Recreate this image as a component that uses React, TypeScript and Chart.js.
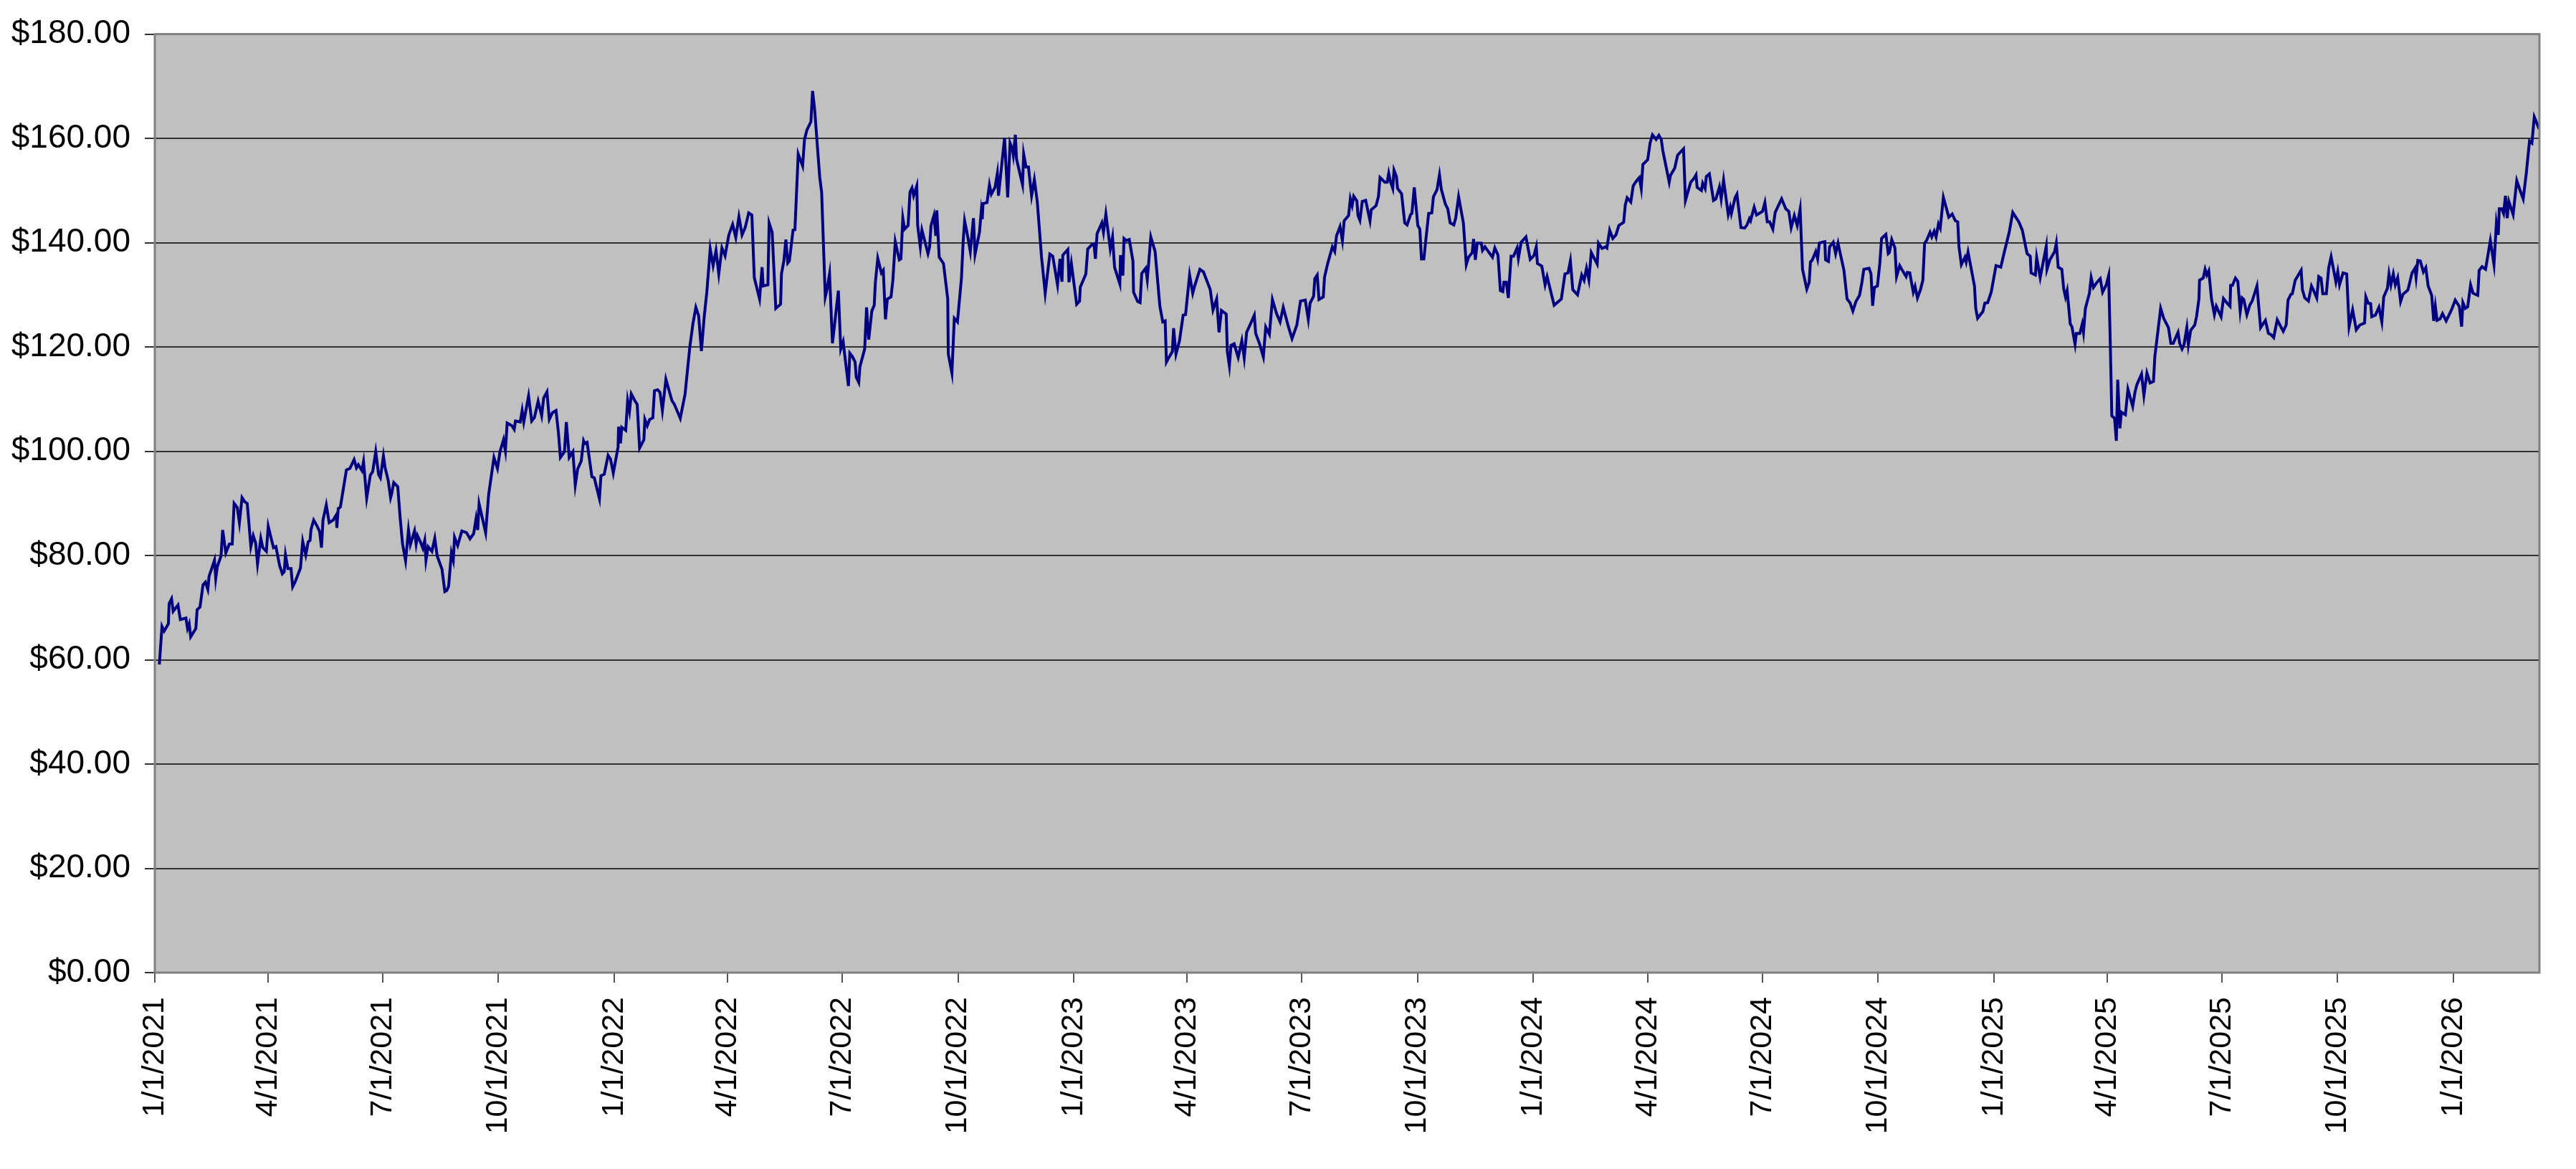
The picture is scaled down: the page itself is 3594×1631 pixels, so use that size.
import { useEffect, useRef } from 'react';
import { Chart, registerables, ChartConfiguration, Plugin } from 'chart.js';

Chart.register(...registerables);

// x axis labels, one per quarter
const tickLabels = [
  '1/1/2021', '4/1/2021', '7/1/2021', '10/1/2021',
  '1/1/2022', '4/1/2022', '7/1/2022', '10/1/2022',
  '1/1/2023', '4/1/2023', '7/1/2023', '10/1/2023',
  '1/1/2024', '4/1/2024', '7/1/2024', '10/1/2024',
  '1/1/2025', '4/1/2025', '7/1/2025', '10/1/2025',
  '1/1/2026',
];

// [days since 1/1/2021, closing price]
const year2021: [number, number][] = [
  [3.6, 59.1], [5.7, 66.4], [7.4, 65.5], [10.8, 66.9], [11.4, 70.8], [13.3, 71.7], [14.6, 69.3], [18.4, 70.5],
  [20.3, 67.7], [24.7, 68.0], [26.0, 66.0], [27.3, 66.9], [28.5, 64.4], [32.6, 66.0], [33.6, 69.6], [35.9, 70.1],
  [38.3, 74.4], [40.2, 74.9], [42.1, 73.5], [43.1, 76.0], [47.4, 79.1], [48.4, 75.6], [49.7, 77.9], [52.6, 79.9],
  [53.9, 84.9], [56.4, 80.5], [59.2, 82.2], [61.5, 82.2], [63.0, 90.0], [65.5, 89.2], [67.2, 86.3], [69.3, 91.1],
  [71.5, 90.3], [73.4, 90.0], [74.4, 87.2], [76.3, 81.7], [78.2, 83.8], [80.1, 82.4], [81.6, 78.4], [84.2, 83.3],
  [85.8, 81.5], [88.6, 80.8], [90.1, 85.6], [92.4, 83.3], [94.3, 81.5], [96.2, 81.7], [99.1, 78.1], [101.3, 76.5],
  [102.8, 76.9], [103.8, 80.1], [105.7, 77.5], [108.2, 77.5], [109.5, 74.0], [111.4, 74.9], [115.7, 77.6], [117.5, 82.7],
  [119.9, 80.1], [121.8, 82.6], [123.3, 82.9], [124.1, 85.0], [126.2, 86.8], [129.0, 85.6], [130.9, 84.6], [132.4, 81.5],
  [133.6, 86.8], [136.2, 89.7], [138.5, 86.3], [141.7, 86.8], [144.2, 87.8], [144.6, 85.3], [145.7, 89.0], [147.4, 89.3],
  [152.2, 96.4], [155.0, 96.7], [158.3, 98.4], [160.2, 96.8], [161.7, 97.4], [164.5, 96.3], [165.8, 98.0], [168.3, 91.0],
  [171.2, 95.4], [173.1, 96.1], [175.5, 99.9], [177.8, 95.5], [179.2, 94.9], [181.6, 99.1], [182.9, 96.9], [185.4, 94.4],
  [187.3, 91.1], [188.2, 91.9], [189.8, 94.0], [193.0, 93.2], [194.9, 87.2], [196.8, 82.2], [199.2, 79.0], [201.5, 84.9],
  [203.0, 82.1], [206.3, 84.7], [207.6, 82.2], [208.7, 83.8], [211.0, 82.6], [212.9, 81.4], [214.4, 82.9], [215.4, 79.1],
  [217.1, 81.7], [220.1, 80.8], [222.4, 83.3], [224.3, 79.9], [228.1, 77.4], [230.4, 73.1], [231.9, 73.3], [233.4, 74.1],
  [235.6, 80.5], [237.1, 79.1], [238.1, 83.5], [240.6, 81.9], [243.9, 84.7], [247.6, 84.4], [250.4, 83.2], [253.3, 84.2],
  [255.2, 87.1], [256.5, 84.9], [257.6, 89.9], [262.8, 84.4], [265.2, 91.7], [269.4, 98.8], [272.2, 96.7], [274.2, 99.9],
  [277.0, 102.2], [278.5, 100.1], [279.9, 105.4], [283.7, 104.9], [285.5, 104.2], [286.5, 105.8], [290.3, 105.6], [291.8, 107.8],
  [293.1, 105.6], [296.9, 110.6], [299.4, 105.8], [301.6, 106.5], [304.5, 109.6], [307.3, 106.8], [308.9, 110.2], [311.5, 111.4],
  [313.4, 106.1], [315.9, 107.4], [318.7, 107.8], [320.6, 103.6], [322.2, 98.8], [325.4, 99.9], [326.9, 105.6], [329.2, 98.8],
  [332.1, 99.9], [334.0, 93.5], [335.9, 96.6], [338.7, 98.1], [340.6, 102.0], [341.5, 101.5], [343.4, 101.7], [347.2, 95.1],
  [349.1, 94.9], [353.2, 90.9], [354.4, 95.3], [357.0, 95.6], [360.1, 99.2], [362.0, 98.5], [364.2, 95.8],
];

const year2022: [number, number][] = [
  [368.0, 100.8], [368.4, 104.7], [369.9, 101.5], [370.9, 104.6], [374.1, 104.0], [375.6, 109.7], [377.1, 107.7], [378.5, 111.0],
  [381.3, 109.7], [383.2, 109.0], [385.1, 100.6], [388.5, 102.2], [389.3, 106.1], [391.2, 104.9], [393.1, 106.1], [395.6, 106.4],
  [396.9, 111.6], [399.4, 111.8], [401.3, 111.3], [403.2, 107.8], [406.0, 113.8], [410.8, 109.7], [412.7, 109.0], [417.4, 106.3],
  [421.2, 110.9], [425.0, 120.0], [427.5, 124.5], [429.8, 127.6], [432.0, 126.0], [434.2, 119.2], [436.5, 126.0], [438.5, 130.5],
  [441.2, 138.8], [443.5, 135.6], [445.8, 138.5], [448.0, 134.0], [450.5, 139.0], [453.0, 137.5], [456.0, 141.5], [459.0, 143.5],
  [461.5, 141.0], [464.0, 145.0], [466.5, 141.5], [469.0, 142.9], [471.8, 145.7], [474.3, 145.3], [476.2, 133.3], [480.4, 129.2],
  [482.4, 135.3], [483.2, 131.7], [487.0, 131.9], [488.0, 143.8], [490.4, 142.0], [493.3, 127.4], [497.1, 128.2], [497.8, 134.0],
  [499.7, 136.5], [501.3, 140.6], [502.8, 136.1], [504.1, 136.5], [507.0, 142.4], [508.5, 142.5], [511.1, 157.0], [514.6, 154.7],
  [516.1, 159.8], [518.0, 161.6], [521.2, 163.2], [522.5, 169.1], [524.1, 165.7], [528.2, 152.5], [529.7, 149.7], [532.6, 129.6],
  [534.1, 131.2], [536.0, 134.0], [538.3, 120.7], [543.0, 130.8], [544.9, 119.6], [546.8, 121.0], [551.0, 112.5], [552.1, 118.8],
  [554.0, 118.2], [556.3, 117.1], [557.2, 114.2], [559.2, 113.2], [560.1, 116.2], [563.9, 119.6], [565.4, 127.6], [567.1, 121.4],
  [569.6, 126.9], [571.5, 128.0], [572.4, 132.4], [574.3, 137.0], [577.2, 134.2], [578.7, 134.7], [580.4, 125.3], [581.9, 129.2],
  [584.8, 129.6], [586.3, 132.8], [588.2, 140.2], [591.4, 136.7], [592.7, 136.9], [594.2, 144.7], [595.6, 142.6], [598.4, 143.3],
  [599.9, 149.7], [601.5, 150.5], [602.8, 149.0], [605.3, 150.9], [606.0, 143.3], [608.1, 139.2], [609.4, 142.4], [614.2, 137.9],
  [615.5, 139.2], [616.6, 143.3], [618.9, 145.2], [620.4, 141.3], [621.2, 146.2], [623.1, 137.2], [626.5, 136.0], [629.9, 129.2],
  [630.3, 118.7], [633.2, 115.0], [635.1, 125.5], [637.6, 124.8], [640.8, 133.3], [642.1, 140.1], [643.3, 144.2], [645.2, 141.9],
  [647.8, 138.3], [650.3, 144.7], [651.6, 137.8], [655.1, 142.0], [656.5, 146.0], [657.3, 144.5], [657.9, 147.5], [661.1, 147.7],
  [663.0, 151.1], [664.5, 149.3], [667.4, 150.6], [669.3, 153.3], [670.2, 149.0], [675.0, 160.1], [677.5, 148.7], [679.4, 159.1],
  [681.3, 157.9], [682.0, 156.8], [683.6, 160.7], [684.5, 156.1], [686.4, 154.1], [689.3, 151.1], [690.2, 157.0], [692.1, 154.5],
  [694.0, 154.5], [696.5, 149.0], [698.7, 152.1], [701.0, 147.9], [704.4, 137.2], [707.3, 130.3], [711.0, 137.8], [713.3, 137.4],
  [717.1, 131.9], [719.1, 136.9], [720.6, 132.5], [721.3, 137.6], [725.3, 138.7], [726.2, 132.4], [728.1, 136.0],
];

const year2023: [number, number][] = [
  [732.3, 128.2], [734.6, 128.8], [735.2, 131.5], [739.6, 134.0], [741.1, 138.8], [744.7, 139.7], [746.0, 139.8], [747.2, 136.9],
  [748.5, 141.7], [752.3, 143.8], [753.6, 142.0], [755.5, 145.5], [759.0, 138.8], [760.8, 141.1], [762.4, 135.3], [766.6, 132.1],
  [767.1, 137.6], [769.0, 133.7], [769.9, 140.8], [771.8, 140.4], [774.1, 140.6], [777.0, 136.5], [777.5, 130.5], [780.8, 128.7],
  [782.7, 128.5], [784.0, 134.1], [787.1, 135.1], [788.4, 132.9], [791.2, 141.1], [794.6, 138.3], [798.4, 127.8], [800.7, 124.8],
  [802.6, 125.0], [803.6, 117.1], [804.9, 117.7], [808.3, 119.1], [809.3, 123.6], [811.2, 118.6], [814.0, 121.2], [816.9, 126.1],
  [818.8, 126.2], [822.0, 133.8], [824.5, 130.3], [825.8, 131.5], [830.2, 134.9], [833.0, 134.4], [838.4, 131.0], [840.6, 127.1],
  [843.5, 129.2], [845.4, 122.8], [847.3, 127.0], [851.1, 126.3], [852.0, 119.1], [853.6, 116.4], [854.9, 120.3], [857.4, 120.6],
  [860.6, 118.0], [863.5, 121.2], [865.4, 117.9], [867.3, 122.8], [870.7, 124.6], [873.4, 126.1], [874.5, 122.6], [877.7, 120.5],
  [880.6, 118.1], [882.5, 123.8], [885.4, 122.4], [887.8, 129.1], [891.1, 126.4], [893.9, 124.8], [896.4, 127.6], [900.6, 123.8],
  [903.4, 121.6], [907.2, 124.2], [910.1, 128.8], [913.9, 129.0], [916.3, 125.3], [917.7, 128.4], [920.5, 129.7], [921.5, 133.1],
  [923.4, 133.8], [924.8, 129.1], [928.2, 129.6], [929.2, 133.4], [931.6, 135.9], [935.4, 139.2], [937.3, 138.3], [938.7, 141.3],
  [941.5, 143.1], [943.4, 140.4], [944.8, 144.2], [948.3, 145.2], [949.7, 148.4], [951.1, 147.1], [952.4, 148.9], [954.9, 148.0],
  [955.8, 145.2], [957.3, 144.3], [959.2, 147.9], [961.9, 148.1], [965.3, 144.2], [966.3, 146.3], [970.1, 147.1], [972.0, 148.8],
  [973.3, 152.5], [977.1, 151.6], [979.0, 151.6], [980.2, 153.3], [981.5, 151.8], [983.4, 150.4], [984.4, 153.9], [986.3, 152.7],
  [987.2, 150.4], [990.4, 149.4], [992.9, 143.8], [994.8, 143.4], [997.6, 145.4], [998.6, 145.6], [1000.5, 150.6], [1003.3, 143.3],
  [1004.9, 142.6], [1006.2, 136.9], [1008.1, 136.9], [1011.9, 145.6], [1014.4, 145.7], [1015.7, 148.8], [1018.6, 150.2], [1020.5, 153.0],
  [1022.0, 150.2], [1025.2, 147.4], [1027.1, 146.5], [1029.0, 143.8], [1031.9, 143.4], [1033.4, 144.7], [1035.7, 148.8], [1039.5, 143.8],
  [1041.8, 135.8], [1043.6, 137.2], [1046.5, 138.1], [1047.6, 140.7], [1049.0, 136.7], [1050.5, 139.9], [1053.7, 139.9], [1054.7, 138.5],
  [1056.6, 139.2], [1062.6, 137.2], [1064.5, 139.0], [1067.0, 137.6], [1068.9, 130.8], [1070.8, 130.6], [1071.7, 132.4], [1073.6, 132.4],
  [1075.2, 129.4], [1077.4, 137.4], [1079.3, 137.4], [1082.2, 139.0], [1083.2, 137.0], [1085.4, 140.1], [1089.2, 141.1], [1092.6, 136.8],
];

const year2024: [number, number][] = [
  [1095.5, 137.5], [1097.4, 139.2], [1098.3, 136.0], [1101.8, 135.5], [1104.4, 131.9], [1106.0, 133.5], [1111.6, 128.0], [1117.3, 129.2],
  [1120.2, 134.0], [1122.6, 134.2], [1124.5, 136.5], [1126.4, 131.0], [1130.2, 130.0], [1133.5, 133.8], [1135.4, 132.8], [1137.3, 135.1],
  [1139.2, 132.9], [1141.1, 138.1], [1145.8, 135.9], [1146.8, 139.9], [1149.6, 138.9], [1152.5, 139.2], [1153.5, 139.0], [1155.7, 142.4],
  [1158.2, 140.8], [1160.7, 141.5], [1163.0, 143.3], [1166.8, 143.9], [1168.1, 147.2], [1169.6, 148.6], [1172.5, 147.8], [1174.4, 150.9],
  [1176.3, 151.6], [1178.2, 152.2], [1179.3, 152.5], [1180.8, 150.4], [1182.1, 155.0], [1185.9, 155.9], [1187.8, 159.1], [1189.7, 160.7],
  [1192.6, 159.8], [1194.8, 160.6], [1196.7, 159.8], [1197.9, 157.7], [1203.0, 151.6], [1204.0, 152.9], [1207.4, 154.3], [1209.7, 156.8],
  [1214.4, 158.0], [1215.9, 148.1], [1220.1, 151.6], [1222.6, 152.3], [1224.3, 153.0], [1225.2, 150.6], [1228.6, 150.0], [1229.6, 151.4],
  [1231.5, 150.4], [1232.5, 152.7], [1234.9, 153.2], [1238.2, 148.1], [1240.1, 148.4], [1242.9, 150.7], [1244.3, 148.4], [1246.2, 152.0],
  [1249.9, 145.4], [1251.5, 146.8], [1252.4, 145.6], [1255.3, 148.6], [1256.8, 149.3], [1260.0, 142.9], [1262.9, 142.8], [1264.8, 143.4],
  [1266.7, 144.6], [1267.6, 144.2], [1270.5, 146.8], [1272.4, 145.3], [1277.1, 146.0], [1279.0, 147.7], [1280.9, 144.0], [1282.8, 144.0],
  [1285.3, 142.6], [1287.2, 145.8], [1289.5, 147.0], [1292.3, 148.4], [1295.6, 146.5], [1298.0, 146.0], [1299.9, 142.9], [1302.4, 145.2],
  [1304.7, 143.3], [1307.0, 146.4], [1308.9, 134.9], [1312.3, 131.1], [1314.2, 132.4], [1315.2, 136.3], [1316.5, 136.6], [1319.4, 138.3],
  [1320.9, 136.9], [1322.2, 139.9], [1324.7, 140.1], [1326.6, 140.2], [1327.2, 136.7], [1329.5, 136.4], [1330.4, 139.2], [1333.3, 140.1],
  [1335.2, 137.9], [1337.1, 139.9], [1341.8, 134.7], [1344.3, 129.2], [1346.6, 128.5], [1348.9, 126.9], [1351.3, 128.7], [1354.2, 129.9],
  [1356.1, 132.4], [1357.6, 134.9], [1361.8, 135.1], [1363.3, 134.0], [1364.6, 127.9], [1366.0, 131.4], [1368.4, 131.7], [1370.3, 136.0],
  [1371.7, 140.8], [1375.1, 141.6], [1377.0, 137.9], [1377.9, 138.1], [1379.8, 140.6], [1382.3, 139.0], [1383.6, 133.5], [1386.1, 135.6],
  [1388.4, 134.6], [1391.2, 133.5], [1392.2, 134.3], [1394.1, 134.2], [1396.9, 130.5], [1398.3, 131.6], [1400.2, 129.4], [1402.6, 131.0],
  [1404.5, 132.8], [1405.9, 139.9], [1407.4, 140.4], [1410.2, 142.0], [1411.6, 141.1], [1413.5, 142.2], [1415.0, 141.1], [1416.9, 143.6],
  [1418.3, 142.8], [1420.8, 148.7], [1425.1, 144.9], [1427.8, 145.5], [1430.3, 144.2], [1432.2, 144.0], [1433.2, 139.2], [1435.1, 135.8],
  [1437.9, 137.2], [1438.9, 136.3], [1440.4, 138.2], [1445.5, 131.7], [1446.5, 127.4], [1448.0, 125.5], [1452.2, 126.8], [1453.7, 128.4],
  [1456.0, 128.5], [1458.8, 130.5],
];

const year2025: [number, number][] = [
  [1462.6, 135.6], [1466.4, 135.3], [1469.3, 138.3], [1473.1, 142.0], [1475.9, 145.8], [1480.7, 144.0], [1483.5, 142.4], [1487.3, 137.9],
  [1489.8, 137.4], [1490.5, 134.2], [1493.9, 133.8], [1494.9, 137.2], [1497.7, 133.3], [1502.5, 139.3], [1503.1, 134.9], [1505.4, 136.7],
  [1509.2, 138.3], [1510.5, 139.9], [1512.0, 135.3], [1514.9, 134.9], [1516.4, 131.1], [1517.8, 129.6], [1519.1, 130.8], [1521.6, 124.4],
  [1522.9, 123.9], [1525.4, 120.5], [1526.4, 122.6], [1529.2, 122.6], [1531.1, 124.4], [1532.1, 122.8], [1533.6, 127.4], [1536.8, 130.3],
  [1538.2, 133.3], [1540.0, 131.4], [1543.1, 132.5], [1545.4, 133.1], [1547.3, 130.5], [1550.2, 131.9], [1552.1, 133.7], [1553.4, 120.5],
  [1554.6, 106.8], [1556.8, 106.3], [1558.2, 102.0], [1559.3, 113.7], [1561.0, 104.4], [1562.2, 107.5], [1565.4, 107.0], [1567.4, 111.9],
  [1571.2, 108.6], [1573.0, 111.3], [1574.4, 112.7], [1578.2, 114.8], [1580.1, 110.7], [1582.5, 115.0], [1585.0, 113.1], [1587.7, 113.4],
  [1588.8, 118.2], [1591.1, 122.8], [1593.4, 127.4], [1595.8, 125.5], [1599.6, 123.7], [1601.5, 120.7], [1603.4, 120.7], [1607.2, 122.8],
  [1608.5, 120.7], [1610.4, 119.6], [1612.0, 120.5], [1614.2, 123.7], [1615.4, 120.4], [1617.3, 123.2], [1620.5, 124.2], [1621.9, 125.8],
  [1623.8, 129.2], [1624.3, 132.8], [1627.2, 133.2], [1628.7, 134.9], [1630.0, 133.8], [1631.6, 134.6], [1633.8, 129.2], [1636.1, 126.2],
  [1637.6, 127.8], [1641.4, 125.8], [1643.3, 129.3], [1646.2, 128.4], [1648.5, 127.8], [1649.0, 131.8], [1650.4, 131.8], [1652.8, 133.2],
  [1654.7, 132.6], [1656.6, 126.8], [1658.1, 129.4], [1659.4, 129.1], [1661.9, 126.2], [1664.2, 128.0], [1666.1, 128.8], [1669.9, 131.7],
  [1672.8, 123.7], [1676.6, 125.1], [1679.0, 122.6], [1680.9, 122.4], [1683.2, 121.8], [1686.0, 125.2], [1690.8, 123.0], [1693.1, 124.2],
  [1694.6, 129.0], [1696.9, 130.1], [1698.0, 130.2], [1700.3, 132.8], [1705.0, 134.7], [1706.0, 131.0], [1707.9, 129.4], [1710.8, 128.8],
  [1713.2, 131.7], [1714.6, 131.0], [1717.4, 129.4], [1719.0, 133.5], [1720.8, 133.2], [1722.2, 130.2], [1725.0, 130.2], [1726.9, 135.2],
  [1728.8, 137.3], [1732.6, 132.5], [1734.1, 134.4], [1735.5, 131.9], [1738.3, 134.2], [1741.2, 134.0], [1743.1, 123.9], [1745.9, 127.1],
  [1748.8, 123.3], [1751.6, 124.2], [1755.4, 124.6], [1756.4, 129.6], [1758.3, 128.4], [1760.2, 128.3], [1761.1, 125.8], [1764.0, 126.1],
  [1766.8, 127.6], [1769.1, 124.8], [1770.6, 129.6], [1773.5, 131.2], [1774.8, 134.0], [1776.3, 131.9], [1778.2, 134.0], [1779.8, 131.9],
  [1781.7, 133.3], [1782.5, 131.7], [1784.0, 128.7], [1785.9, 130.1], [1789.7, 130.9], [1790.6, 131.7], [1793.1, 134.2], [1795.4, 135.1],
  [1796.3, 133.3], [1797.7, 136.6], [1799.6, 136.5], [1802.1, 134.4], [1804.0, 135.2], [1805.9, 131.7], [1808.7, 129.9], [1810.3, 125.0],
  [1811.6, 127.8], [1813.0, 125.1], [1815.4, 125.4], [1817.3, 126.4], [1820.2, 125.0], [1823.6, 126.7], [1824.9, 127.4],
];

const year2026: [number, number][] = [
  [1827.4, 129.0], [1830.6, 127.8], [1832.5, 123.9], [1833.5, 128.5], [1835.4, 127.4], [1837.3, 127.7], [1839.6, 131.9], [1841.5, 130.3],
  [1845.3, 129.9], [1846.4, 134.7], [1848.7, 135.4], [1851.5, 134.9], [1855.3, 140.4], [1858.2, 135.8], [1860.1, 143.8], [1861.6, 141.5],
  [1862.4, 146.5], [1864.3, 146.5], [1865.8, 145.6], [1867.3, 149.0], [1868.7, 144.7], [1870.0, 147.9], [1873.4, 145.4], [1876.3, 151.9],
  [1879.1, 149.9], [1881.4, 148.4], [1883.9, 153.4], [1886.4, 159.5], [1888.3, 159.1], [1890.2, 164.1], [1892.1, 163.0], [1894.0, 161.8],
];

const dayOf = (label: string) => {
  const [m, d, y] = label.split('/').map(Number);
  return Math.round((Date.UTC(y, m - 1, d) - Date.UTC(2021, 0, 1)) / 86400000);
};

const tickDays = tickLabels.map(dayOf);

const FONT = '"Liberation Sans", Arial, sans-serif';

// grey plot background plus a frame round the whole plot area
const plotFrame: Plugin<'line'> = {
  id: 'plotFrame',
  beforeDraw(chart) {
    const { ctx, chartArea: a } = chart;
    ctx.save();
    ctx.fillStyle = '#c0c0c0';
    ctx.fillRect(a.left, a.top, a.right - a.left, a.bottom - a.top);
    ctx.restore();
  },
  afterDraw(chart) {
    const { ctx, chartArea: a } = chart;
    ctx.save();
    ctx.strokeStyle = '#808080';
    ctx.lineWidth = 3;
    ctx.strokeRect(a.left, a.top, a.right - a.left, a.bottom - a.top);
    ctx.restore();
  },
};

export default function App() {
  const chartRef = useRef<HTMLCanvasElement>(null);
  const chartInstance = useRef<Chart | null>(null);

  useEffect(() => {
    if (!chartRef.current) return;
    if (chartInstance.current) chartInstance.current.destroy();

    const points = [...year2021, ...year2022, ...year2023, ...year2024, ...year2025, ...year2026]
      .map(([x, y]) => ({ x, y }));

    const config: ChartConfiguration<'line'> = {
      type: 'line',
      data: {
        datasets: [
          {
            label: 'Price',
            data: points,
            borderColor: '#000080',
            borderWidth: 4,
            pointRadius: 0,
            tension: 0,
            fill: false,
          },
        ],
      },
      options: {
        animation: false,
        responsive: false,
        devicePixelRatio: 1,
        parsing: false,
        layout: { padding: { top: 42, right: 51, bottom: 0, left: 0 } },
        plugins: {
          legend: { display: false },
          tooltip: { enabled: false },
        },
        scales: {
          x: {
            type: 'linear',
            min: 0,
            max: 1894.3,
            afterBuildTicks: (axis) => {
              axis.ticks = tickDays.map((value) => ({ value }));
            },
            afterFit: (axis) => {
              axis.height = 274;
            },
            grid: {
              drawOnChartArea: false,
              drawTicks: true,
              tickLength: 14,
              color: '#555555',
              lineWidth: 2,
            },
            border: { display: false },
            ticks: {
              autoSkip: false,
              minRotation: 90,
              maxRotation: 90,
              padding: 20,
              color: '#000000',
              font: { family: FONT, size: 43 },
              callback: (value) => {
                const i = tickDays.indexOf(Number(value));
                return i >= 0 ? tickLabels[i] : '';
              },
            },
          },
          y: {
            min: 0,
            max: 180,
            afterFit: (axis) => {
              axis.width = 216;
            },
            grid: {
              color: '#333333',
              lineWidth: 2,
              tickLength: 14,
            },
            border: { display: false },
            ticks: {
              stepSize: 20,
              padding: 20,
              color: '#000000',
              font: { family: FONT, size: 46 },
              callback: (value) => '$' + Number(value).toFixed(2),
            },
          },
        },
      },
      plugins: [plotFrame],
    };

    chartInstance.current = new Chart(chartRef.current, config);

    return () => {
      if (chartInstance.current) {
        chartInstance.current.destroy();
        chartInstance.current = null;
      }
    };
  }, []);

  return (
    <div style={{ position: 'absolute', left: 0, top: 0, width: 3594, height: 1631, background: '#ffffff' }}>
      <canvas ref={chartRef} width={3594} height={1631} style={{ width: 3594, height: 1631 }}></canvas>
    </div>
  );
}
